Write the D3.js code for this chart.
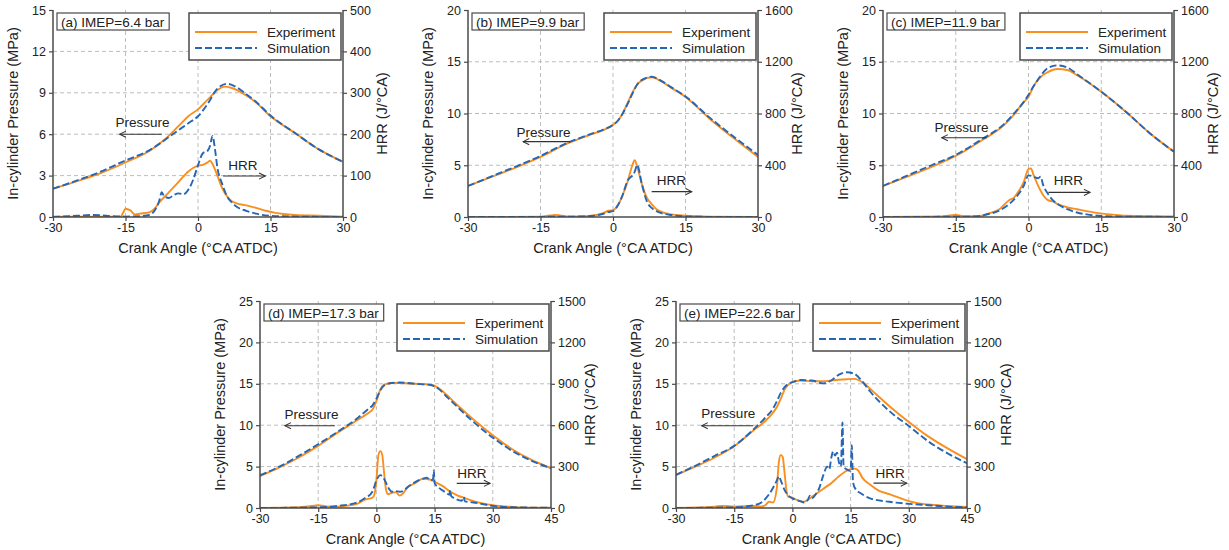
<!DOCTYPE html>
<html><head><meta charset="utf-8">
<script src="https://cdn.jsdelivr.net/npm/d3@7"></script>
<style>body{margin:0;background:#fff} text{font-family:"Liberation Sans",Arial,sans-serif;fill:#222}</style>
</head><body><svg id="c" width="1229" height="550"></svg><script>
// ---------- DATA (crank angle, value) ----------
const seriesNames = ["Experiment", "Simulation"];
const panelLabels = ["(a) IMEP=6.4 bar", "(b) IMEP=9.9 bar", "(c) IMEP=11.9 bar", "(d) IMEP=17.3 bar", "(e) IMEP=22.6 bar"];
const xTicksTop = [-30, -15, 0, 15, 30];
const xTicksBottom = [-30, -15, 0, 15, 30, 45];
const pTicksA = [0, 3, 6, 9, 12, 15];
const pTicksBC = [0, 5, 10, 15, 20];
const pTicksDE = [0, 5, 10, 15, 20, 25];
const hTicksA = [0, 100, 200, 300, 400, 500];
const hTicksBC = [0, 400, 800, 1200, 1600];
const hTicksDE = [0, 300, 600, 900, 1200, 1500];

// (a)
const aPExp = [[-30,2.05],[-25,2.6],[-20,3.2],[-15,3.95],[-10,4.8],[-8,5.3],[-6,5.9],[-4,6.6],[-2,7.3],[0,7.8],[2,8.5],[4,9.2],[5.5,9.45],[7,9.35],[10,8.8],[12,8.3],[15,7.3],[20,6.1],[25,4.9],[30,4.0]];
const aPSim = [[-30,2.05],[-25,2.65],[-20,3.3],[-15,4.1],[-10,4.85],[-8,5.3],[-6,5.8],[-4,6.3],[-2,6.8],[0,7.3],[2,8.2],[4,9.3],[6,9.65],[8,9.4],[10,8.9],[12,8.35],[15,7.35],[20,6.1],[25,4.9],[30,4.0]];
const aHExp = [[-30,1],[-20,1],[-16,1],[-15.5,10],[-15,20],[-14,16],[-13,6],[-12,8],[-10,12],[-9,20],[-8,35],[-6,60],[-4,85],[-2,110],[0,124],[1,126],[2,132],[2.5,136],[3,128],[4,100],[5,70],[6,50],[7,38],[8,33],[10,28],[12,22],[14,15],[16,10],[20,5],[25,3],[30,1]];
const aHSim = [[-30,0],[-25,3],[-22,5],[-20,4],[-18,2],[-15,1],[-12,2],[-10,5],[-9,15],[-8,40],[-7.5,60],[-7,50],[-6,46],[-5,53],[-4,57],[-3,55],[-2,66],[-1,90],[0,125],[1,154],[2,160],[2.5,172],[3,196],[3.5,165],[4,120],[5,80],[6,50],[7,35],[8,25],[10,15],[12,8],[15,3],[20,1],[30,0]];
// (b)
const bPExp = [[-30,3.0],[-25,3.9],[-20,4.8],[-15,5.8],[-10,7.0],[-5,7.9],[-2,8.4],[0,8.9],[1,9.3],[2,10.0],[3,11.0],[4,12.0],[5,12.8],[6,13.2],[8,13.5],[10,13.1],[12,12.5],[15,11.6],[20,9.5],[25,7.6],[30,5.8]];
const bPSim = [[-30,3.0],[-25,3.95],[-20,4.9],[-15,5.9],[-10,7.05],[-5,7.95],[-2,8.45],[0,8.9],[1,9.3],[2,10.0],[3,10.9],[4,11.9],[5,12.8],[6,13.25],[8,13.55],[10,13.15],[12,12.55],[15,11.65],[20,9.6],[25,7.75],[30,6.0]];
const bHExp = [[-30,0],[-15,2],[-13,12],[-12,15],[-11,12],[-9,4],[-5,8],[-2,30],[-1,48],[0,52],[1,90],[2,170],[3,270],[4,400],[4.5,440],[5,390],[6,250],[7,150],[8,100],[9,60],[10,40],[12,20],[15,10],[20,3],[30,0]];
const bHSim = [[-30,0],[-10,2],[-5,6],[-2,25],[-1,38],[0,45],[1,90],[2,170],[3,280],[4,320],[4.5,350],[5,402],[6,250],[7,120],[8,70],[9,45],[10,30],[12,15],[15,5],[20,1],[30,0]];
// (c)
const cPExp = [[-30,3.0],[-25,3.9],[-20,4.85],[-15,5.9],[-10,7.3],[-5,8.9],[-3,9.9],[-1,11.1],[0,11.6],[1,12.6],[2,13.3],[4,14.0],[6,14.3],[8,14.2],[10,13.7],[15,12.1],[20,10.2],[25,8.1],[30,6.3]];
const cPSim = [[-30,3.0],[-25,4.0],[-20,5.0],[-15,6.0],[-10,7.4],[-5,9.0],[-3,10.0],[-1,11.1],[0,11.8],[1,12.6],[2,13.3],[4,14.4],[6,14.65],[8,14.45],[10,13.8],[15,12.1],[20,10.2],[25,8.1],[30,6.3]];
const cHExp = [[-30,0],[-18,4],[-15,15],[-13,6],[-10,8],[-8,30],[-6,60],[-4,130],[-3,150],[-2,200],[-1,270],[0,370],[0.5,376],[1,330],[2,240],[3,170],[4,130],[5,120],[6,100],[8,75],[10,60],[12,45],[14,32],[17,20],[20,10],[30,5]];
const cHSim = [[-30,0],[-12,3],[-8,25],[-6,50],[-4,100],[-2,180],[-1,240],[0,322],[1,312],[2,300],[2.5,312],[3,250],[4,180],[5,130],[6,100],[8,60],[10,35],[12,20],[15,8],[20,3],[30,1]];
// (d)
const dPExp = [[-30,3.85],[-25,4.9],[-20,6.1],[-15,7.5],[-10,9.1],[-5,10.6],[-2,11.5],[-1,11.9],[0,12.9],[1,14.3],[2,14.9],[4,15.1],[6,15.1],[10,15.0],[14,14.9],[16,14.5],[18,13.7],[20,12.8],[25,10.7],[30,8.8],[35,7.1],[40,5.8],[45,4.8]];
const dPSim = [[-30,3.95],[-25,5.0],[-20,6.3],[-15,7.7],[-10,9.2],[-5,10.8],[-2,12.0],[-1,12.4],[0,13.2],[1,14.2],[2,14.8],[4,15.1],[6,15.15],[10,15.0],[14,14.85],[16,14.4],[18,13.5],[20,12.6],[25,10.4],[30,8.5],[35,6.9],[40,5.7],[45,4.8]];
const dHExp = [[-30,0],[-20,5],[-16,16],[-15,20],[-13,12],[-10,10],[-8,15],[-5,30],[-3,60],[-1,75],[-0.5,100],[0,200],[0.5,380],[1,412],[1.5,385],[2,250],[2.5,130],[3,100],[4,110],[5,115],[6,90],[7,110],[8,150],[10,180],[12,212],[14,205],[15,190],[17,160],[19,120],[21,90],[23,70],[25,50],[28,30],[30,20],[35,8],[40,3],[45,2]];
const dHSim = [[-30,0],[-15,5],[-10,15],[-5,40],[-3,70],[-1,120],[0,200],[1,238],[2,210],[3,150],[4,118],[5,122],[6,118],[7,125],[8,150],[10,188],[12,212],[13,220],[14,200],[14.6,210],[14.8,272],[15,180],[16,150],[18,110],[18.8,95],[19,130],[19.3,85],[20,72],[22,52],[22.5,80],[22.8,48],[25,40],[28,25],[30,15],[35,5],[45,2]];
// (e)
const ePExp = [[-30,4.0],[-25,5.0],[-20,6.1],[-15,7.45],[-10,9.4],[-7,10.5],[-5,11.5],[-4,12.2],[-3,13.2],[-2,14.3],[-1,14.9],[0,15.2],[2,15.4],[5,15.3],[8,15.3],[10,15.4],[14,15.55],[16,15.6],[18,15.2],[20,14.4],[25,12.3],[30,10.4],[35,8.65],[40,7.2],[45,5.9]];
const ePSim = [[-30,4.0],[-25,5.1],[-20,6.3],[-15,7.5],[-10,9.5],[-7,10.9],[-5,12.0],[-4,12.9],[-3,13.9],[-2,14.6],[-1,15.0],[0,15.2],[2,15.45],[5,15.4],[8,15.05],[10,15.4],[12,16.1],[14,16.4],[16,16.2],[18,15.3],[20,14.1],[25,11.7],[30,9.9],[35,8.05],[40,6.6],[45,5.4]];
const eHExp = [[-30,0],[-20,10],[-18,15],[-15,10],[-10,15],[-8,10],[-7,20],[-6,45],[-5,40],[-4,150],[-3.5,330],[-3,385],[-2.5,370],[-2,250],[-1.5,120],[-1,80],[0,75],[1,60],[2,50],[3,45],[4,60],[6,100],[8,140],[10,180],[12,230],[14,270],[15,282],[16,285],[17,270],[18,220],[20,170],[22,130],[25,100],[28,70],[30,50],[35,25],[40,15],[45,8]];
const eHSim = [[-30,0],[-15,5],[-10,20],[-8,40],[-6,100],[-4,200],[-3.5,230],[-3,200],[-2,130],[-1,90],[0,70],[2,50],[3,40],[4,60],[4.5,90],[5,70],[6,100],[7,150],[8,240],[9,300],[9.5,280],[10,360],[10.5,410],[11,380],[11.5,400],[12,330],[12.5,300],[12.9,620],[13.2,300],[14,280],[15,270],[15.3,455],[15.6,200],[16,150],[18,100],[20,70],[25,45],[30,30],[35,20],[40,10],[45,5]];

// ---------- LAYOUT ----------
const panels = [
  {label:panelLabels[0], box:[53,10,343,217], xd:[-30,30], xt:xTicksTop, pd:[0,15], pt:pTicksA, hd:[0,500], ht:hTicksA, pe:aPExp, ps:aPSim, he:aHExp, hs:aHSim,
   pr:{tx:-11.5,ty:6.5,x1:-7.5,x2:-16.2,y:6.0}, hr:{tx:9.3,ty:3.4,x1:5.2,x2:13.9,y:2.97}},
  {label:panelLabels[1], box:[468,10,758,217], xd:[-30,30], xt:xTicksTop, pd:[0,20], pt:pTicksBC, hd:[0,1600], ht:hTicksBC, pe:bPExp, ps:bPSim, he:bHExp, hs:bHSim,
   pr:{tx:-14.4,ty:7.76,x1:-8.9,x2:-18.6,y:7.28}, hr:{tx:12.1,ty:3.1,x1:8.0,x2:16.3,y:2.45}},
  {label:panelLabels[2], box:[883,10,1174,217], xd:[-30,30], xt:xTicksTop, pd:[0,20], pt:pTicksBC, hd:[0,1600], ht:hTicksBC, pe:cPExp, ps:cPSim, he:cHExp, hs:cHSim,
   pr:{tx:-13.8,ty:8.2,x1:-8.6,x2:-17.9,y:7.66}, hr:{tx:8.2,ty:3.1,x1:4.1,x2:12.7,y:2.38}},
  {label:panelLabels[3], box:[260,301,551,508], xd:[-30,45], xt:xTicksBottom, pd:[0,25], pt:pTicksDE, hd:[0,1500], ht:hTicksDE, pe:dPExp, ps:dPSim, he:dHExp, hs:dHSim,
   pr:{tx:-16.7,ty:10.75,x1:-10.7,x2:-23.6,y:9.94}, hr:{tx:24.6,ty:3.6,x1:20.7,x2:29.3,y:2.98}},
  {label:panelLabels[4], box:[676,301,967,508], xd:[-30,45], xt:xTicksBottom, pd:[0,25], pt:pTicksDE, hd:[0,1500], ht:hTicksDE, pe:ePExp, ps:ePSim, he:eHExp, hs:eHSim,
   pr:{tx:-16.5,ty:10.83,x1:-10.1,x2:-23.4,y:9.94}, hr:{tx:25.2,ty:3.6,x1:20.9,x2:29.5,y:3.0}}
];

const ORANGE = "#FA8F1F", BLUE = "#2566B5", AX = "#4a4a4a";
const DASH = "7,3";
const svg = d3.select("#c");
const defs = svg.append("defs");
defs.append("marker").attr("id","arr").attr("viewBox","0 0 10 10").attr("refX",9).attr("refY",5)
  .attr("markerWidth",7).attr("markerHeight",7).attr("orient","auto-start-reverse")
  .append("path").attr("d","M1,1 L9,5 L1,9").attr("fill","none").attr("stroke","#333").attr("stroke-width",1.3);

panels.forEach((p,i)=>{
  const [x0,y0,x1,y1] = p.box;
  const x = d3.scaleLinear().domain(p.xd).range([x0,x1]);
  const yP = d3.scaleLinear().domain(p.pd).range([y1,y0]);
  const yH = d3.scaleLinear().domain(p.hd).range([y1,y0]);
  const g = svg.append("g");
  const cid = "clip"+i;
  defs.append("clipPath").attr("id",cid).append("rect").attr("x",x0).attr("y",y0-2).attr("width",x1-x0).attr("height",y1-y0+2);

  // grid
  g.selectAll(".gx").data(p.xt.slice(1,-1)).join("line")
    .attr("x1",d=>x(d)).attr("x2",d=>x(d)).attr("y1",y0).attr("y2",y1)
    .attr("stroke","#bdbdbd").attr("stroke-dasharray","4,3").attr("stroke-width",1);
  g.selectAll(".gy").data(p.pt.slice(1,-1)).join("line")
    .attr("x1",x0).attr("x2",x1).attr("y1",d=>yP(d)).attr("y2",d=>yP(d))
    .attr("stroke","#bdbdbd").attr("stroke-dasharray","4,3").attr("stroke-width",1);

  // curves
  const lp = d3.line().x(d=>x(d[0])).y(d=>yP(d[1])).curve(d3.curveMonotoneX);
  const lh = d3.line().x(d=>x(d[0])).y(d=>yH(d[1])).curve(d3.curveMonotoneX);
  const cg = g.append("g").attr("clip-path",`url(#${cid})`);
  cg.append("path").attr("d",lh(p.he)).attr("fill","none").attr("stroke",ORANGE).attr("stroke-width",1.9);
  cg.append("path").attr("d",lh(p.hs)).attr("fill","none").attr("stroke",BLUE).attr("stroke-width",1.9).attr("stroke-dasharray",DASH);
  cg.append("path").attr("d",lp(p.pe)).attr("fill","none").attr("stroke",ORANGE).attr("stroke-width",1.9);
  cg.append("path").attr("d",lp(p.ps)).attr("fill","none").attr("stroke",BLUE).attr("stroke-width",1.9).attr("stroke-dasharray",DASH);

  // axes
  const fmt = d=>String(d);
  const ax = g.append("g").attr("transform",`translate(0,${y1})`).call(d3.axisBottom(x).tickValues(p.xt).tickSize(4).tickPadding(2).tickFormat(fmt));
  const al = g.append("g").attr("transform",`translate(${x0},0)`).call(d3.axisLeft(yP).tickValues(p.pt).tickSize(4).tickPadding(3).tickFormat(fmt));
  const ar = g.append("g").attr("transform",`translate(${x1},0)`).call(d3.axisRight(yH).tickValues(p.ht).tickSize(4).tickPadding(3).tickFormat(fmt));
  [ax,al,ar].forEach(a=>{
    a.select(".domain").attr("stroke",AX).attr("stroke-width",1.5).attr("d", a===ax ? `M${x0},0H${x1}` : `M0,${y0}V${y1}`);
    a.selectAll(".tick line").attr("stroke",AX).attr("stroke-width",1.2);
    a.selectAll(".tick text").attr("font-size",12.5).attr("font-family","Liberation Sans, Arial, sans-serif").attr("fill","#222");
  });

  // axis titles
  g.append("text").attr("x",(x0+x1)/2).attr("y",y1+36).attr("text-anchor","middle").attr("font-size",14.5).text("Crank Angle (°CA ATDC)");
  g.append("text").attr("transform",`translate(${x0-35},${(y0+y1)/2}) rotate(-90)`).attr("text-anchor","middle").attr("font-size",14.5).text("In-cylinder Pressure (MPa)");
  g.append("text").attr("transform",`translate(${x1+44},${(y0+y1)/2}) rotate(-90)`).attr("text-anchor","middle").attr("font-size",14.5).text("HRR (J/°CA)");

  // label box
  const lr = g.append("rect").attr("x",x0+4).attr("y",y0+3).attr("height",17)
    .attr("fill","#fff").attr("stroke",AX).attr("stroke-width",1.2);
  const lt = g.append("text").attr("x",x0+8).attr("y",y0+16.5).attr("font-size",13.5).text(p.label);
  lr.attr("width", lt.node().getComputedTextLength()+9);

  // legend
  const lx = x1-154, ly = y0+3;
  g.append("rect").attr("x",lx).attr("y",ly).attr("width",152).attr("height",47).attr("fill","#fff").attr("stroke",AX).attr("stroke-width",1.5);
  seriesNames.forEach((s,k)=>{
    const yy = ly + 19 + k*16;
    g.append("line").attr("x1",lx+6).attr("x2",lx+68).attr("y1",yy).attr("y2",yy)
      .attr("stroke",k?BLUE:ORANGE).attr("stroke-width",1.9).attr("stroke-dasharray",k?DASH:null);
    g.append("text").attr("x",lx+78).attr("y",yy+5).attr("font-size",13.5).text(s);
  });

  // annotations
  g.append("text").attr("x",x(p.pr.tx)).attr("y",yP(p.pr.ty)).attr("text-anchor","middle").attr("font-size",13.5).text("Pressure");
  g.append("line").attr("x1",x(p.pr.x1)).attr("x2",x(p.pr.x2)).attr("y1",yP(p.pr.y)).attr("y2",yP(p.pr.y)).attr("stroke","#333").attr("stroke-width",1.1).attr("marker-end","url(#arr)");
  g.append("text").attr("x",x(p.hr.tx)).attr("y",yP(p.hr.ty)).attr("text-anchor","middle").attr("font-size",13.5).text("HRR");
  g.append("line").attr("x1",x(p.hr.x1)).attr("x2",x(p.hr.x2)).attr("y1",yP(p.hr.y)).attr("y2",yP(p.hr.y)).attr("stroke","#333").attr("stroke-width",1.1).attr("marker-end","url(#arr)");
});
</script></body></html>
